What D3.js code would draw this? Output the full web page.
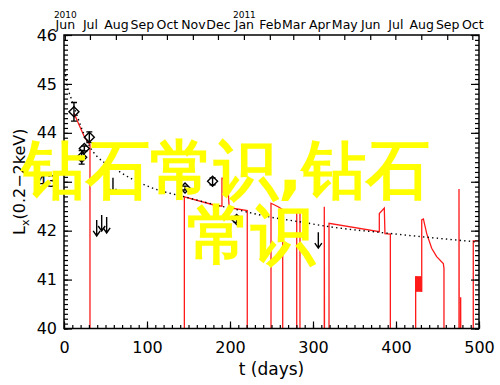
<!DOCTYPE html>
<html>
<head>
<meta charset="utf-8">
<script src="https://cdn.jsdelivr.net/npm/d3@7"></script>
<style>
  body { margin: 0; background: #fff; }
  svg { display: block; }
  text { font-family: "DejaVu Sans", sans-serif; fill: #000; }
</style>
</head>
<body>
<div id="chart"></div>
<script>
// value used for "model off" (below the plotted range, gets clipped)
const OFF = 39.5;

// red model light curve (t in days, log Lx)
const modelT = [12, 19.3, 25.3, 31.3, 31.3,
  145, 145, 179.5, 190.3, 190.3, 197, 199, 220.8, 220.8,
  249.4, 249.4, 258, 263.5, 263.5,
  280.4, 280.4, 284.3, 284.3,
  313.6, 313.6, 313.9, 319.3, 319.3, 379.9, 379.9, 385.9, 386.7, 393.2, 393.2,
  423.7, 423.7, 431, 431, 433, 437, 443, 449, 457, 457.8, 457.8,
  475.9, 475.9, 476.2, 477.9, 477.9, 478.1, 493.1, 493.1, 500];
const modelL = [44.40, 44.12, 43.89, 43.76, OFF,
  OFF, 42.69, 42.53, 42.50, 43.07, 43.06, 42.47, 42.41, OFF,
  OFF, 42.56, 42.49, 42.43, OFF,
  OFF, 42.40, 42.38, OFF,
  OFF, 42.49, OFF, OFF, 42.15, 41.98, 42.35, 42.46, 41.94, 41.93, OFF,
  OFF, 41.07, 40.75, 42.22, 42.24, 41.94, 41.64, 41.47, 41.33, 41.23, OFF,
  OFF, 42.85, OFF, OFF, 40.64, OFF, OFF, 41.79, 41.79];

// fast oscillating stretch drawn as a filled band
const bandT = [423.7, 431];
const bandL = [40.75, 41.07];

// dotted power-law decline
const fitT = [1.2, 3.2, 9.3, 13.3, 31.3, 63.9, 103.6, 148, 179.5, 208, 248, 288, 320, 389, 429, 497.6];
const fitL = [45.28, 45.04, 44.67, 44.47, 43.71, 43.24, 42.89, 42.68, 42.54, 42.43, 42.28, 42.17, 42.08, 41.95, 41.88, 41.77];

// detections with error bars
const obsT = [12.0, 30.5, 24.5, 21.3, 145.8, 179, 208];
const obsL = [44.43, 43.91, 43.68, 43.50, 42.87, 43.01, 42.23];
const obsErr = [0.19, 0.11, 0.05, 0.14, 0.04, 0.07, 0.06];

// upper limits
const limT = [59, 39.4, 45.4, 51.4, 306.4];
const limL = [43.08, 42.22, 42.32, 42.28, 41.97];

// axes
const xTicks = [0, 100, 200, 300, 400, 500];
const yTicks = [40, 41, 42, 43, 44, 45, 46];
const calStart = new Date(Date.UTC(2010, 4, 31));
const calEnd = new Date(Date.UTC(2011, 9, 9));

const watermark1 = "钻石常识,钻石";
const watermark2 = "常识";

const W = 500, H = 385;
const margin = { top: 35, right: 21, bottom: 56.5, left: 64 };

const svg = d3.select('#chart').append('svg')
  .attr('width', W)
  .attr('height', H);

const x = d3.scaleLinear().domain([0, 500]).range([margin.left, W - margin.right]);
const y = d3.scaleLinear().domain([40, 46]).range([H - margin.bottom, margin.top]);
const xCal = d3.scaleUtc().domain([calStart, calEnd]).range([margin.left, W - margin.right]);

svg.append('clipPath').attr('id', 'plot')
  .append('rect')
  .attr('x', margin.left).attr('y', margin.top)
  .attr('width', W - margin.left - margin.right)
  .attr('height', H - margin.top - margin.bottom);

const plot = svg.append('g').attr('clip-path', 'url(#plot)');

// model curve
const modelLine = d3.line()
  .x((d, i) => x(modelT[i]))
  .y((d, i) => y(modelL[i]));
plot.append('path')
  .attr('d', modelLine(modelT))
  .attr('fill', 'none')
  .attr('stroke', '#ff1a1a')
  .attr('stroke-width', 1.3);

plot.append('rect')
  .attr('x', x(bandT[0]))
  .attr('width', x(bandT[1]) - x(bandT[0]))
  .attr('y', y(bandL[1]))
  .attr('height', y(bandL[0]) - y(bandL[1]))
  .attr('fill', '#ff1a1a');

// fit curve
const fitLine = d3.line()
  .x((d, i) => x(fitT[i]))
  .y((d, i) => y(fitL[i]))
  .curve(d3.curveMonotoneX);
plot.append('path')
  .attr('d', fitLine(fitT))
  .attr('fill', 'none')
  .attr('stroke', '#000')
  .attr('stroke-width', 1.4)
  .attr('stroke-dasharray', '1.4,3.2');

// detections
const obs = svg.append('g').attr('stroke', '#000').attr('stroke-width', 1.4).attr('fill', 'none');
obsT.forEach((t, i) => {
  const cx = x(t), cy = y(obsL[i]);
  const y1 = y(obsL[i] + obsErr[i]), y2 = y(obsL[i] - obsErr[i]);
  obs.append('path')
    .attr('d', `M${cx},${y1}V${y2}M${cx - 3},${y1}H${cx + 3}M${cx - 3},${y2}H${cx + 3}`);
  obs.append('path')
    .attr('d', `M${cx},${cy - 5}L${cx + 5},${cy}L${cx},${cy + 5}L${cx - 5},${cy}Z`);
});

// upper limits
limT.forEach((t, i) => {
  const ax = x(t), ay = y(limL[i]);
  obs.append('path')
    .attr('d', `M${ax},${ay}V${ay + 16}M${ax - 3.5},${ay + 11}L${ax},${ay + 16}L${ax + 3.5},${ay + 11}`);
});

// axes, IDL style: ticks inside
const axes = svg.append('g');

axes.append('g')
  .attr('transform', `translate(${margin.left},0)`)
  .call(d3.axisLeft(y).tickValues(d3.range(400, 461).map(v => v / 10)).tickSize(-4).tickFormat(''));
axes.append('g')
  .attr('transform', `translate(${margin.left},0)`)
  .call(d3.axisLeft(y).tickValues(yTicks).tickSize(-8).tickPadding(7).tickFormat(d3.format('d')));

axes.append('g')
  .attr('transform', `translate(${W - margin.right},0)`)
  .call(d3.axisRight(y).tickValues(d3.range(400, 461).map(v => v / 10)).tickSize(-4).tickFormat(''));
axes.append('g')
  .attr('transform', `translate(${W - margin.right},0)`)
  .call(d3.axisRight(y).tickValues(yTicks).tickSize(-8).tickFormat(''));

axes.append('g')
  .attr('transform', `translate(0,${H - margin.bottom})`)
  .call(d3.axisBottom(x).tickValues(d3.range(0, 501, 10)).tickSize(-3.5).tickFormat(''));
axes.append('g')
  .attr('transform', `translate(0,${H - margin.bottom})`)
  .call(d3.axisBottom(x).tickValues(xTicks).tickSize(-7).tickPadding(13).tickFormat(d3.format('d')));

const topAxis = axes.append('g')
  .attr('transform', `translate(0,${margin.top})`)
  .call(d3.axisTop(xCal).ticks(d3.utcMonth.every(1)).tickSize(-5).tickPadding(6).tickFormat(d3.utcFormat('%b')));
topAxis.selectAll('text').attr('font-size', 12.5);
topAxis.selectAll('.tick')
  .filter((d, i) => i === 0 || d.getUTCMonth() === 0)
  .append('text')
  .attr('y', -17)
  .attr('text-anchor', 'middle')
  .attr('font-size', 9)
  .text(d => d.getUTCFullYear());

axes.selectAll('.domain').remove();
axes.selectAll('.tick line').attr('stroke', '#000').attr('stroke-width', 1.2);
axes.selectAll('.tick text').attr('fill', '#000').attr('font-family', '"DejaVu Sans", sans-serif');
axes.selectAll('g[text-anchor] > .tick > text').filter(function () { return !this.getAttribute('font-size'); })
  .attr('font-size', 16);

svg.append('rect')
  .attr('x', margin.left).attr('y', margin.top)
  .attr('width', W - margin.left - margin.right)
  .attr('height', H - margin.top - margin.bottom)
  .attr('fill', 'none')
  .attr('stroke', '#000')
  .attr('stroke-width', 1.5);

// axis titles
svg.append('text')
  .attr('x', (margin.left + W - margin.right) / 2)
  .attr('y', 375)
  .attr('text-anchor', 'middle')
  .attr('font-size', 17)
  .text('t (days)');

const ylab = svg.append('text')
  .attr('transform', `translate(25,${(margin.top + H - margin.bottom) / 2}) rotate(-90)`)
  .attr('text-anchor', 'middle')
  .attr('font-size', 16);
ylab.append('tspan').text('L');
ylab.append('tspan').attr('font-size', 11).attr('dy', 4).text('x');
ylab.append('tspan').attr('dy', -4).text('(0.2\u22122keV)');

// watermark
const wm = svg.append('g')
  .attr('fill', '#ffff00')
  .style('font-family', '"Noto Sans CJK SC", sans-serif')
  .style('font-weight', 700)
  .style('font-size', '64px');
wm.append('text').attr('x', 22).attr('y', 192).style('fill', '#ffff00').text(watermark1);
wm.append('text').attr('x', 187).attr('y', 257).style('fill', '#ffff00').text(watermark2);
</script>
</body>
</html>
